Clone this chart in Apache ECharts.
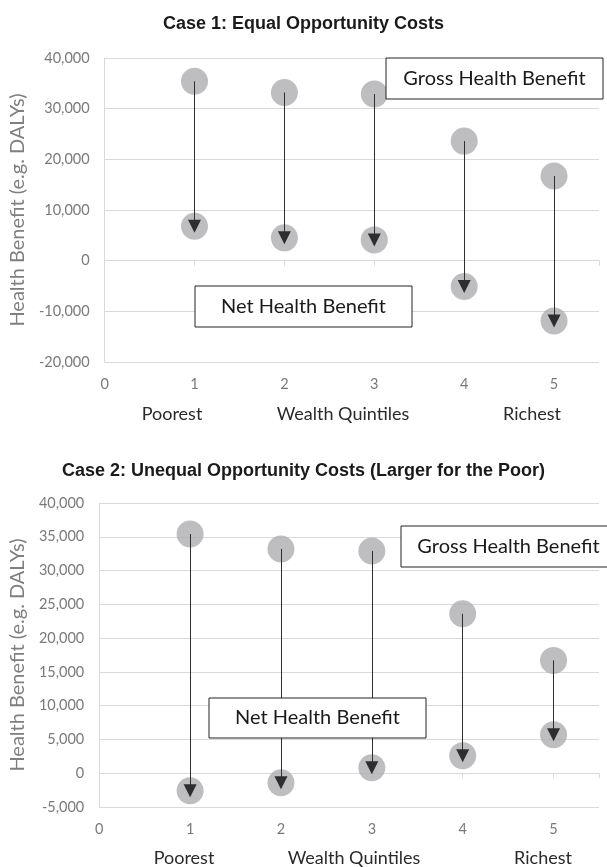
<!DOCTYPE html>
<html>
<head>
<meta charset="utf-8">
<script src="https://cdn.jsdelivr.net/npm/echarts@6/dist/echarts.min.js"></script>
<style>
html,body{margin:0;padding:0;background:#fff;}
#chart{width:607px;height:867px;}
</style>
</head>
<body>
<div id="chart"></div>
<script>
// ---- data ----
const quintiles = [1, 2, 3, 4, 5];
const case1Gross = [35400, 33200, 32900, 23600, 16700];
const case1Net = [6800, 4500, 4100, -5100, -11900];
const case2Gross = [35400, 33200, 32900, 23600, 16700];
const case2Net = [-2600, -1400, 800, 2600, 5700];
const xTicks = [0, 1, 2, 3, 4, 5];
const groupLabels = ['Poorest', 'Wealth Quintiles', 'Richest'];
const titles = ['Case 1: Equal Opportunity Costs', 'Case 2: Unequal Opportunity Costs (Larger for the Poor)'];
const yAxisName = 'Health Benefit (e.g. DALYs)';
const boxLabels = ['Gross Health Benefit', 'Net Health Benefit'];

const FONT = 'Lato, "Open Sans", sans-serif';
const gridLine = '#d9d9d9';
const markerColor = '#aeaeb2';

const chart = echarts.init(document.getElementById('chart'), null, {renderer: 'canvas'});

function xAxes(gi) {
  return [
    { // axis line + ticks on zero
      type: 'value', gridIndex: gi, min: 0, max: 5.5, interval: 1,
      axisLine: {show: true, onZero: true, lineStyle: {color: gridLine}},
      axisTick: {show: true, length: 5, lineStyle: {color: gridLine}},
      axisLabel: {show: false}, splitLine: {show: false}
    },
    { // labels at bottom
      type: 'value', gridIndex: gi, min: 0, max: 5.5, interval: 1, position: 'bottom',
      axisLine: {show: false, onZero: false}, axisTick: {show: false}, splitLine: {show: false},
      axisLabel: {
        show: true, margin: 15, color: '#7a7a7a', fontFamily: FONT, fontSize: 14.5,
        showMaxLabel: false,
        formatter: v => (xTicks.indexOf(v) >= 0 ? String(v) : '')
      }
    }
  ];
}

function yAxis(gi, min, max, interval, gap) {
  return {
    type: 'value', gridIndex: gi, min: min, max: max, interval: interval,
    name: yAxisName, nameLocation: 'middle', nameGap: gap, nameRotate: 90,
    nameTextStyle: {color: '#7f7f7f', fontFamily: FONT, fontSize: 20},
    axisLine: {show: true, lineStyle: {color: gridLine}},
    axisTick: {show: false},
    splitLine: {show: true, lineStyle: {color: gridLine}},
    axisLabel: {
      color: '#7a7a7a', fontFamily: FONT, fontSize: 14.5, margin: 15,
      formatter: v => v.toLocaleString('en-US')
    }
  };
}

function seriesFor(gi, gross, net) {
  const xi = gi * 2, yi = gi;
  const pts = quintiles.map((q, i) => [q, gross[i]]);
  const npts = quintiles.map((q, i) => [q, net[i]]);
  const arrows = quintiles.map((q, i) => ({coords: [[q, gross[i]], [q, net[i]]]}));
  return [
    {type: 'scatter', xAxisIndex: xi, yAxisIndex: yi, data: pts, symbolSize: 27,
     itemStyle: {color: markerColor}, z: 2, silent: true},
    {type: 'scatter', xAxisIndex: xi, yAxisIndex: yi, data: npts, symbolSize: 27,
     itemStyle: {color: markerColor}, z: 2, silent: true},
    {type: 'lines', coordinateSystem: 'cartesian2d', xAxisIndex: xi, yAxisIndex: yi,
     data: arrows, symbol: ['none', 'triangle'], symbolSize: [10, 13],
     lineStyle: {color: '#2e2e2e', width: 1, opacity: 1}, z: 3, silent: true}
  ];
}

function box(x, y, w, h, text, fs) {
  return [
    {type: 'rect', z: 100, zlevel: 0, shape: {x: x, y: y, width: w, height: h},
     style: {fill: '#fff', stroke: '#222', lineWidth: 1}},
    {type: 'text', z: 101, zlevel: 0, x: x + w / 2, y: y + h / 2,
     style: {text: text, fill: '#1a1a1a', fontSize: fs, fontFamily: 'Lato', align: 'center', verticalAlign: 'middle'}}
  ];
}

function label(x, y, text) {
  return {type: 'text', x: x, y: y, z: 100,
    style: {text: text, fill: '#2a2a2a', fontSize: 18, fontFamily: 'Lato', align: 'center', verticalAlign: 'middle'}};
}

const titleStyle = {fontFamily: 'Arial, "Liberation Sans", sans-serif', fontWeight: 'bold', fontSize: 18, color: '#1a1a1a'};

const option = {
  backgroundColor: '#fff',
  animation: false,
  title: [
    {text: titles[0], left: 'center', top: 10, textStyle: titleStyle},
    {text: titles[1], left: 'center', top: 457, textStyle: titleStyle}
  ],
  grid: [
    {left: 104, right: 8, top: 58, height: 304},
    {left: 99, right: 8, top: 503, height: 304}
  ],
  xAxis: [...xAxes(0), ...xAxes(1)],
  yAxis: [
    yAxis(0, -20000, 40000, 10000, 72),
    yAxis(1, -5000, 40000, 5000, 68)
  ],
  series: [...seriesFor(0, case1Gross, case1Net), ...seriesFor(1, case2Gross, case2Net)],
  graphic: [
    ...box(386, 58, 217, 41, boxLabels[0], 20),
    ...box(195, 286, 217, 41, boxLabels[1], 20),
    ...box(401, 526, 215, 41, boxLabels[0], 20),
    ...box(209, 698, 217, 40, boxLabels[1], 20),
    label(172, 414, groupLabels[0]),
    label(343, 414, groupLabels[1]),
    label(532, 414, groupLabels[2]),
    label(184, 858, groupLabels[0]),
    label(354, 858, groupLabels[1]),
    label(543, 858, groupLabels[2])
  ]
};
chart.setOption(option);
</script>
</body>
</html>
